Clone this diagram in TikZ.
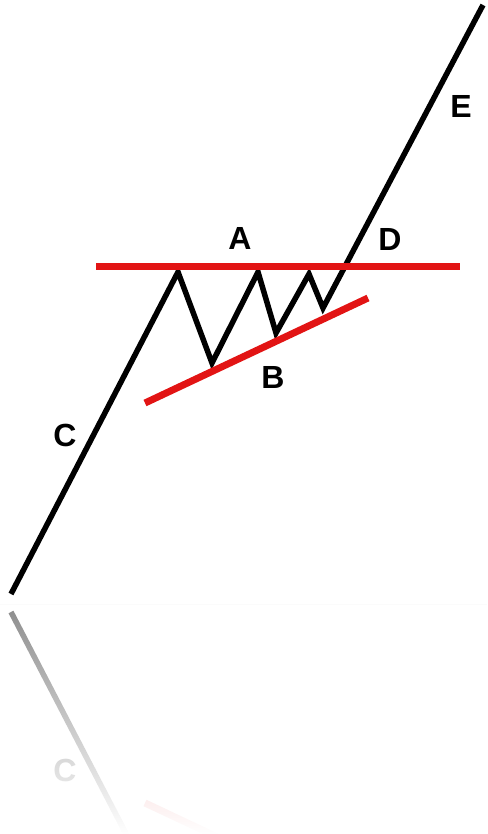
\documentclass[tikz,border=0pt]{standalone}
\usepackage{fontspec}
\setmainfont{Liberation Sans}
\usetikzlibrary{fadings}
\definecolor{trendred}{RGB}{226,20,20}
\tikzfading[name=mirrorfade, top color=transparent!45, middle color=transparent!12, bottom color=transparent!0]
\tikzset{
  price/.style={line width=5.5pt, black},
  trend/.style={line width=7pt, trendred},
  lbl/.style={font=\fontsize{32}{32}\selectfont\bfseries, inner sep=0pt}
}
% the lines, drawn once as is and once mirrored
\newcommand{\flagpattern}{%
  \coordinate (p0) at (11,594);
  \coordinate (p1) at (178,272);
  \coordinate (p2) at (212,363);
  \coordinate (p3) at (258,272);
  \coordinate (p4) at (276,333);
  \coordinate (p5) at (309,274);
  \coordinate (p6) at (323,308);
  \coordinate (p7) at (483,5);
  \coordinate (top0) at (96,266);
  \coordinate (top1) at (460,266);
  \coordinate (bot0) at (145,403);
  \coordinate (bot1) at (368,298);
  \draw[price] (p0) -- (p1) -- (p2) -- (p3) -- (p4) -- (p5) -- (p6) -- (p7);
  \draw[trend] (top0) -- (top1);
  \draw[trend] (bot0) -- (bot1);
  \node[lbl] (labC) at (65,435) {C};
}
\begin{document}
\begin{tikzpicture}[x=1pt,y=-1pt]
\useasboundingbox (0,0) rectangle (487,834);
\flagpattern
\node[lbl] (labA) at (240,238) {A};
\node[lbl] (labB) at (273,377) {B};
\node[lbl] (labD) at (390,239) {D};
\node[lbl] (labE) at (461,106) {E};
% mirror image below
\draw[gray!6, line width=1pt] (0,604) -- (487,604);
\begin{scope}
  \clip (0,604) rectangle (487,834);
  \begin{scope}[shift={(0,1206)}, yscale=-1, transform shape]
    \flagpattern
  \end{scope}
  \fill[white, path fading=mirrorfade] (0,604) rectangle (487,834);
\end{scope}
\end{tikzpicture}
\end{document}
